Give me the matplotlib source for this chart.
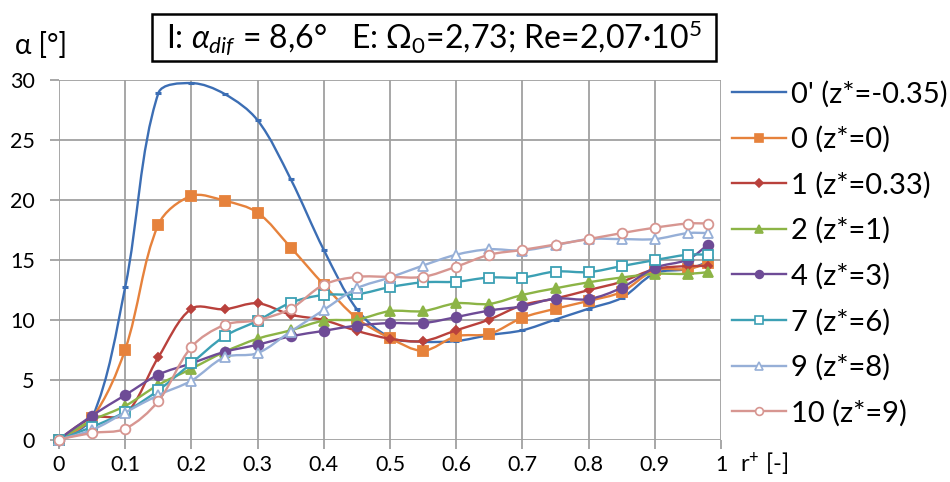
import matplotlib
matplotlib.use('Agg')
import matplotlib.pyplot as plt
import numpy as np
from matplotlib.path import Path
from matplotlib.patches import PathPatch, Rectangle
from matplotlib.lines import Line2D

plt.rcParams['font.family'] = ['Lato', 'DejaVu Sans']
plt.rcParams['mathtext.fontset'] = 'custom'
plt.rcParams['mathtext.rm'] = 'Lato'
plt.rcParams['mathtext.it'] = 'Lato:italic'

# --------DATA--------
r_plus = [0, 0.05, 0.1, 0.15, 0.2, 0.25, 0.3, 0.35, 0.4, 0.45, 0.5,
          0.55, 0.6, 0.65, 0.7, 0.75, 0.8, 0.85, 0.9, 0.95, 0.98]

alpha_0p = [0, 1.8, 12.7, 28.85, 29.7, 28.8, 26.6, 21.7, 15.8, 10.85, 8.5,
            8.15, 8.2, 8.7, 9.1, 10.0, 10.9, 11.8, 13.85, 14.2, 14.8]
alpha_0 = [0, 1.8, 7.5, 17.9, 20.3, 19.9, 18.9, 16.0, 12.9, 10.1, 8.45,
           7.4, 8.6, 8.8, 10.15, 10.9, 11.55, 12.3, 14.1, 14.2, 14.7]
alpha_1 = [0, 1.8, 2.1, 6.85, 10.9, 10.85, 11.35, 10.4, 9.95, 9.05, 8.4,
           8.2, 9.1, 10.0, 11.2, 11.75, 12.45, 13.15, 14.2, 14.45, 14.45]
alpha_2 = [0, 1.6, 2.8, 4.55, 5.9, 7.3, 8.4, 9.1, 9.9, 10.0, 10.7,
           10.7, 11.35, 11.3, 12.05, 12.6, 13.1, 13.5, 13.8, 13.8, 13.95]
alpha_4 = [0, 2.0, 3.7, 5.4, 6.35, 7.3, 7.9, 8.6, 9.05, 9.5, 9.7,
           9.7, 10.2, 10.75, 11.1, 11.75, 11.7, 12.65, 14.3, 15.0, 16.25]
alpha_7 = [0, 1.05, 2.3, 4.1, 6.35, 8.6, 9.9, 11.4, 12.05, 12.1, 12.7,
           13.1, 13.15, 13.5, 13.5, 14.0, 13.95, 14.45, 14.95, 15.4, 15.4]
alpha_9 = [0, 0.8, 2.25, 3.7, 4.9, 6.85, 7.2, 9.0, 10.8, 12.6, 13.5,
           14.5, 15.4, 15.85, 15.75, 16.2, 16.7, 16.7, 16.7, 17.2, 17.2]
alpha_10 = [0, 0.55, 0.9, 3.2, 7.7, 9.55, 9.95, 10.9, 12.9, 13.55, 13.55,
            13.55, 14.4, 15.4, 15.8, 16.25, 16.7, 17.2, 17.65, 18.0, 18.0]

labels = ["0' (z*=-0.35)", "0 (z*=0)", "1 (z*=0.33)", "2 (z*=1)",
          "4 (z*=3)", "7 (z*=6)", "9 (z*=8)", "10 (z*=9)"]
series = [alpha_0p, alpha_0, alpha_1, alpha_2, alpha_4, alpha_7, alpha_9, alpha_10]

colors = ['#3C6EB4', '#E6823C', '#B9413C', '#8CB446',
          '#6E4B96', '#3CA0B4', '#96AFD7', '#D79691']
markers = ['_', 's', 'D', '^', 'o', 's', '^', 'o']
msizes = [5, 7, 4.5, 6.5, 7, 7, 7, 7]
filled = [True, True, True, True, True, False, False, False]


def smooth_path(x, y, sx=662.0, sy=12.0):
    '''Сглаженная кривая через точки (похоже на Excel)'''
    pts = np.column_stack([x, y]).astype(float)
    scr = pts * [sx, sy]  # длины отрезков считаем в пикселях
    n = len(pts)
    verts = [pts[0]]
    codes = [Path.MOVETO]
    for i in range(n - 1):
        i0 = max(i - 1, 0)
        i3 = min(i + 2, n - 1)
        d01 = np.hypot(*(scr[i] - scr[i0]))
        d12 = np.hypot(*(scr[i + 1] - scr[i]))
        d23 = np.hypot(*(scr[i3] - scr[i + 1]))
        k1 = d12 / (d01 + d12) / 3 if d01 > 0 else 0
        k2 = d12 / (d12 + d23) / 3 if d23 > 0 else 0
        c1 = pts[i] + (pts[i + 1] - pts[i0]) * k1
        c2 = pts[i + 1] - (pts[i3] - pts[i]) * k2
        verts += [c1, c2, pts[i + 1]]
        codes += [Path.CURVE4] * 3
    return Path(verts, codes)


# --------DRAW--------
fig = plt.figure(figsize=(9.5, 4.82), dpi=100)
ax = fig.add_axes([59/950, 1 - 439.5/482, (721 - 59)/950, (439.5 - 79.5)/482])

handles = []
for k in range(len(series)):
    c = colors[k]
    ax.add_patch(PathPatch(smooth_path(r_plus, series[k]), facecolor='none',
                           edgecolor=c, lw=1.7, zorder=3 + k))
    mfc = c if filled[k] else 'white'
    mew = 2.2 if markers[k] == '_' else 1.3
    ax.plot(r_plus, series[k], ls='none', marker=markers[k], ms=msizes[k],
            mfc=mfc, mec=c, mew=mew, zorder=3 + k, clip_on=False)
    handles.append(Line2D([], [], color=c, lw=1.7, marker=None if k == 0 else markers[k],
                          ms=msizes[k] * 0.8, mfc=mfc, mec=c, mew=1.2))

ax.set_xlim(0, 1)
ax.set_ylim(0, 30)
ax.set_xticks(np.arange(0, 1.01, 0.1))
ax.set_xticklabels(['0', '0.1', '0.2', '0.3', '0.4', '0.5', '0.6', '0.7', '0.8', '0.9', '1'])
ax.set_yticks(np.arange(0, 31, 5))
ax.grid(True, color='#A0A0A0', lw=1.3)
ax.set_axisbelow(True)
for s in ax.spines.values():
    s.set_visible(False)
ax.tick_params(axis='both', colors='#A0A0A0', width=1.3, length=6.5, labelsize=15.5,
               labelcolor='black')
ax.tick_params(axis='y', pad=11)
ax.tick_params(axis='x', pad=5)

fig.legend(handles=handles, labels=labels, loc='upper left',
           bbox_to_anchor=(720/950, 1 - 69/482), frameon=False, fontsize=21,
           handlelength=1.85, handletextpad=0.2, labelspacing=0.64, borderaxespad=0)

fig.text(15/950, 1 - 45/482, 'α [°]', fontsize=20, va='center', ha='left')
fig.text(740/950, 1 - 464/482, 'r$^{+}$ [-]', fontsize=17, va='center', ha='left')
fig.patches.append(Rectangle((152/950, 1 - 61/482), 564/950, 47/482,
                             transform=fig.transFigure, fc='white', ec='black', lw=1.8))
fig.text(434/950, 1 - 38/482,
         r'I: $\alpha_{dif}$ = 8,6°   E: Ω$_0$=2,73; Re=2,07·10$^5$',
         fontsize=23, va='center', ha='center')

fig.savefig('out.png', dpi=100)
